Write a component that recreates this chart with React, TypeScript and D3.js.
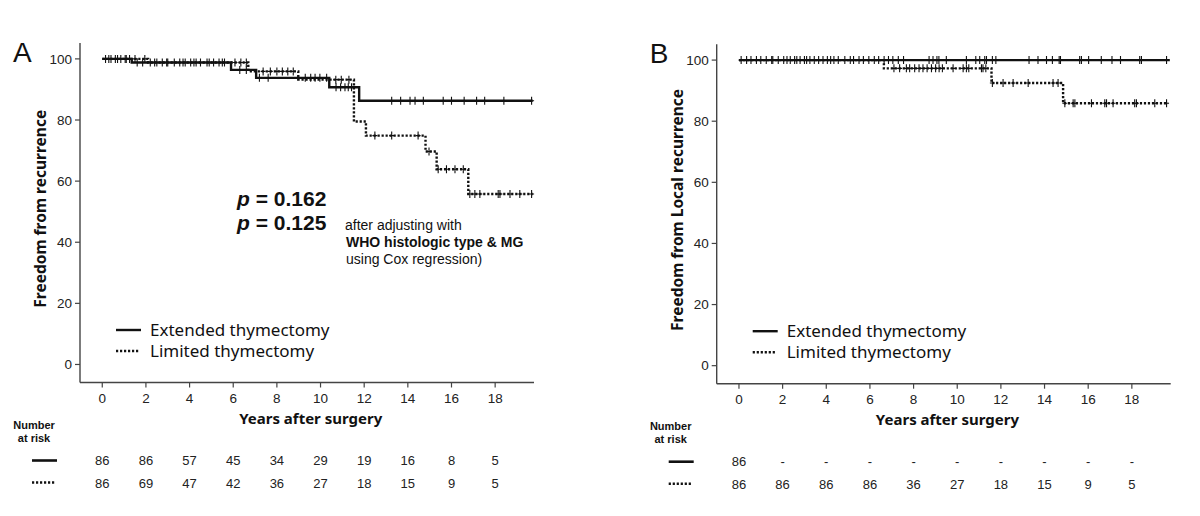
import * as d3 from 'd3'
import React from 'react'

// x tick labels / at-risk columns (years)
const years = [0, 2, 4, 6, 8, 10, 12, 14, 16, 18]
const yTicks = [0, 20, 40, 60, 80, 100]

// Number at risk
const riskExtA = ['86', '86', '57', '45', '34', '29', '19', '16', '8', '5']
const riskLimA = ['86', '69', '47', '42', '36', '27', '18', '15', '9', '5']
const riskExtB = ['86', '-', '-', '-', '-', '-', '-', '-', '-', '-']
const riskLimB = ['86', '86', '86', '86', '36', '27', '18', '15', '9', '5']

// Kaplan-Meier steps: [time (years), freedom (%)]
const extStepsA: [number, number][] = [[0, 100], [1.35, 98.8], [5.9, 96.4], [7.05, 93.8], [10.4, 90.7], [11.77, 86.3], [19.72, 86.3]]
const limStepsA: [number, number][] = [[0, 100], [2.1, 98.8], [6.69, 95.9], [8.98, 93.2], [11.53, 79.5], [12.08, 74.9], [14.81, 69.7], [15.32, 63.9], [16.77, 55.8], [19.72, 55.8]]
const extStepsB: [number, number][] = [[0, 100], [19.74, 100]]
const limStepsB: [number, number][] = [[0, 100], [6.64, 97.3], [11.57, 92.5], [14.85, 85.9], [19.66, 85.9]]

// censored observations (years)
const extCensorA = [0.15, 0.4, 0.6, 0.85, 1.05, 1.25, 1.6, 1.85, 2.2, 2.5, 2.75, 2.95, 3.3, 3.55, 3.8, 4.05, 4.3, 4.5, 4.8, 5.1, 5.35, 5.6, 6.3, 6.6, 7.2, 7.6, 9.3, 9.55, 9.75, 9.97, 10.28, 10.71, 10.92, 11.12, 11.27, 11.42, 13.26, 13.67, 14.1, 14.33, 14.71, 15.62, 16.0, 16.58, 17.15, 17.52, 18.4, 19.67]
const limCensorA = [0.3, 0.7, 1.1, 1.5, 1.95, 2.4, 3.0, 3.7, 4.2, 4.9, 5.5, 6.08, 6.35, 6.6, 7.37, 7.7, 8.0, 8.25, 8.5, 8.75, 10.7, 10.95, 11.3, 12.49, 13.26, 14.47, 14.97, 15.39, 15.77, 16.16, 16.54, 16.84, 17.07, 17.3, 18.14, 18.22, 18.68, 19.13, 19.67]
const extCensorB = [0.1, 0.35, 0.55, 0.8, 1.0, 1.25, 1.5, 1.55, 1.8, 2.05, 2.2, 2.35, 2.55, 2.65, 2.8, 3.0, 3.1, 3.25, 3.45, 3.65, 3.85, 4.05, 4.2, 4.35, 4.55, 4.85, 5.1, 5.25, 5.5, 5.7, 5.95, 6.2, 6.4, 6.65, 6.85, 7.05, 7.3, 7.54, 8.71, 8.89, 9.07, 9.16, 9.5, 10.42, 10.85, 11.03, 11.26, 11.34, 11.61, 11.77, 13.29, 13.7, 14.09, 14.36, 14.67, 14.73, 15.61, 15.69, 16.02, 16.6, 17.09, 17.48, 18.36, 18.44, 19.59]
const limCensorB = [7.1, 7.36, 7.67, 7.82, 8.05, 8.25, 8.43, 8.62, 8.82, 9.01, 9.17, 9.32, 9.81, 10.27, 10.42, 10.53, 11.11, 11.18, 11.31, 11.61, 12.1, 12.56, 13.25, 14.39, 14.62, 14.93, 15.31, 15.39, 16.15, 16.76, 16.84, 17.14, 18.13, 18.21, 19.05, 19.59]

const ARIAL = "'Liberation Sans', Arial, sans-serif"
const SANS = "'Noto Sans', 'Open Sans', sans-serif"

// value of a step curve at time t
function stepAt(steps: [number, number][], t: number) {
  let v = steps[0][1]
  for (const s of steps) if (s[0] <= t) v = s[1]
  return v
}

const Panel = (props) => {
  const { ox, oy, letter, yTitle, ext, lim, extCensor, limCensor, riskExt, riskLim, showP } = props
  const w = 454
  const h = 339.5

  const x = d3.scaleLinear().domain([-1.02, 19.78]).range([0, w])
  const y = d3.scaleLinear().domain([-5.9, 105.2]).range([h, 0])
  const line = d3.line<[number, number]>()
    .x((d) => x(d[0]))
    .y((d) => y(d[1]))
    .curve(d3.curveStepAfter)

  const cross = (steps, times, key) =>
    times.map((t, i) => {
      const cx = x(t)
      const cy = y(stepAt(steps, t))
      return <path key={key + i} d={`M${cx},${cy - 4}V${cy + 4}M${cx - 2.5},${cy}H${cx + 2.5}`} stroke="#111" strokeWidth={1.1} />
    })

  return (
    <g>
      <text x={ox - 67} y={oy + 19} fontFamily={ARIAL} fontSize={28} fill="#111">{letter}</text>
      <g transform={`translate(${ox},${oy})`}>
        {/* axes */}
        <line x1={0} x2={0} y1={0} y2={h} stroke="#444" strokeWidth={1.4} />
        <line x1={0} x2={w} y1={h} y2={h} stroke="#444" strokeWidth={1.4} />
        {yTicks.map((t) => (
          <g key={'y' + t}>
            <line x1={-5} x2={0} y1={y(t)} y2={y(t)} stroke="#444" strokeWidth={1.2} />
            <text x={-8} y={y(t)} dy="0.35em" textAnchor="end" fontFamily={ARIAL} fontSize={13.5} fill="#222">{t}</text>
          </g>
        ))}
        {years.map((t) => (
          <g key={'x' + t}>
            <line x1={x(t)} x2={x(t)} y1={h} y2={h + 5} stroke="#444" strokeWidth={1.2} />
            <text x={x(t)} y={h + 20} textAnchor="middle" fontFamily={ARIAL} fontSize={13.5} fill="#222">{t}</text>
          </g>
        ))}
        <text x={(x(0) + x(18)) / 2 + 12} y={h + 41} textAnchor="middle" fontFamily={SANS} fontWeight="bold" fontSize={15} fill="#111">Years after surgery</text>
        <text transform={`translate(${-34},${h / 2 - 4}) rotate(-90)`} textAnchor="middle" fontFamily={SANS} fontWeight="bold" fontSize={15.5} fill="#111">{yTitle}</text>

        {/* curves */}
        <path d={line(ext)} fill="none" stroke="#111" strokeWidth={2.4} />
        <path d={line(lim)} fill="none" stroke="#111" strokeWidth={2.4} strokeDasharray="2.2,1.8" />
        {cross(ext, extCensor, 'e')}
        {cross(lim, limCensor, 'l')}

        {/* legend */}
        <line x1={36} x2={61} y1={287} y2={287} stroke="#111" strokeWidth={2.4} />
        <text x={70} y={293} fontFamily={SANS} fontSize={17} fill="#111">Extended thymectomy</text>
        <line x1={36} x2={59} y1={308} y2={308} stroke="#111" strokeWidth={2.4} strokeDasharray="2.2,1.8" />
        <text x={70} y={314} fontFamily={SANS} fontSize={17} fill="#111">Limited thymectomy</text>

        {showP && (
          <g fontFamily={ARIAL} fill="#111">
            <text x={157} y={163} fontSize={21} fontWeight="bold"><tspan fontStyle="italic">p</tspan> = 0.162</text>
            <text x={157} y={187} fontSize={21} fontWeight="bold"><tspan fontStyle="italic">p</tspan> = 0.125</text>
            <text x={265} y={187} fontSize={14}>after adjusting with</text>
            <text x={266} y={204} fontSize={14} fontWeight="bold">WHO histologic type &amp; MG</text>
            <text x={266} y={221} fontSize={14}>using Cox regression)</text>
          </g>
        )}

        {/* number at risk */}
        <text x={-46} y={h + 46} textAnchor="middle" fontFamily={ARIAL} fontWeight="bold" fontSize={11} fill="#111">Number</text>
        <text x={-46} y={h + 59} textAnchor="middle" fontFamily={ARIAL} fontWeight="bold" fontSize={11} fill="#111">at risk</text>
        <line x1={-48} x2={-23} y1={h + 78} y2={h + 78} stroke="#111" strokeWidth={2.6} />
        <line x1={-48} x2={-25} y1={h + 100} y2={h + 100} stroke="#111" strokeWidth={2.6} strokeDasharray="2.2,1.8" />
        {years.map((t, i) => (
          <g key={'r' + t}>
            <text x={x(t)} y={h + 78} dy="0.35em" textAnchor="middle" fontFamily={ARIAL} fontSize={13} fill="#222">{riskExt[i]}</text>
            <text x={x(t)} y={h + 101} dy="0.35em" textAnchor="middle" fontFamily={ARIAL} fontSize={13} fill="#222">{riskLim[i]}</text>
          </g>
        ))}
      </g>
    </g>
  )
}

export default function App() {
  return (
    <svg width={1200} height={516} style={{ position: 'absolute', left: 0, top: 0, background: '#fff' }}>
      <rect width={1200} height={516} fill="#fff" />
      <Panel ox={80} oy={43} letter="A" yTitle="Freedom from recurrence"
        ext={extStepsA} lim={limStepsA} extCensor={extCensorA} limCensor={limCensorA}
        riskExt={riskExtA} riskLim={riskLimA} showP />
      <Panel ox={716.7} oy={44.2} letter="B" yTitle="Freedom from Local recurrence"
        ext={extStepsB} lim={limStepsB} extCensor={extCensorB} limCensor={limCensorB}
        riskExt={riskExtB} riskLim={riskLimB} showP={false} />
    </svg>
  )
}
